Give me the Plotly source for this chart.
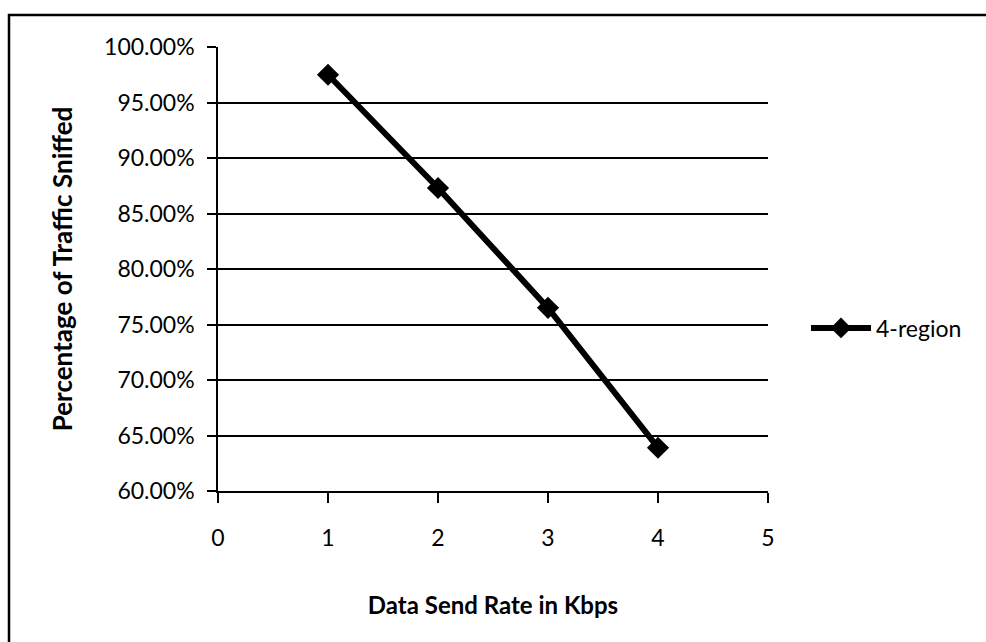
import plotly.graph_objects as go

rates = [1, 2, 3, 4]
sniffed = [0.975, 0.873, 0.765, 0.639]
series_name = "4-region"
x_ticks = [0, 1, 2, 3, 4, 5]
y_ticks = [0.60, 0.65, 0.70, 0.75, 0.80, 0.85, 0.90, 0.95, 1.00]

W, H = 986, 642
L, R, T, B = 218, 218, 47, 151

fig = go.Figure()
fig.add_trace(go.Scatter(
    x=rates, y=sniffed, name=series_name, mode="lines+markers",
    line=dict(color="black", width=6),
    marker=dict(symbol="diamond", size=17, color="black"),
))

font = "Lato, 'Noto Sans', sans-serif"
fig.update_layout(
    width=W, height=H,
    margin=dict(l=L, r=R, t=T, b=B, autoexpand=False),
    paper_bgcolor="white", plot_bgcolor="white",
    font=dict(family=font, size=23, color="black"),
    showlegend=True,
    legend=dict(x=(806 - L) / (W - L - R), xanchor="left",
                y=(491 - 328) / (642 - T - B), yanchor="middle",
                bgcolor="rgba(0,0,0,0)", font=dict(size=23),
                itemwidth=60),
    xaxis=dict(range=[0, 5], tickvals=x_ticks, ticks="outside", ticklen=10,
               tickcolor="black", tickwidth=1.5,
               showline=True, linecolor="black", linewidth=1.5,
               showgrid=False, zeroline=False, ticklabelstandoff=16,
               title=dict(text="<b>Data Send Rate in Kbps</b>", standoff=47,
                          font=dict(size=24))),
    yaxis=dict(range=[0.60, 1.00], tickvals=y_ticks, tickformat=".2%",
               ticks="outside", ticklen=9, tickcolor="black", tickwidth=1.5,
               showline=True, linecolor="black", linewidth=1.5,
               showgrid=True, gridcolor="black", gridwidth=1.5,
               zeroline=False, ticklabelstandoff=8,
               title=dict(text="<b>Percentage of Traffic Sniffed</b>", standoff=24,
                          font=dict(size=26))),
)

pw, ph = W - L - R, H - T - B
def px(xp): return (xp - L) / pw
def py(yp): return (H - B - yp) / ph
fig.add_shape(type="path", xref="paper", yref="paper",
              path=f"M {px(9)} {py(650)} L {px(9)} {py(15)} L {px(995)} {py(15)}",
              line=dict(color="black", width=2.5))

fig.write_html("out.html")
